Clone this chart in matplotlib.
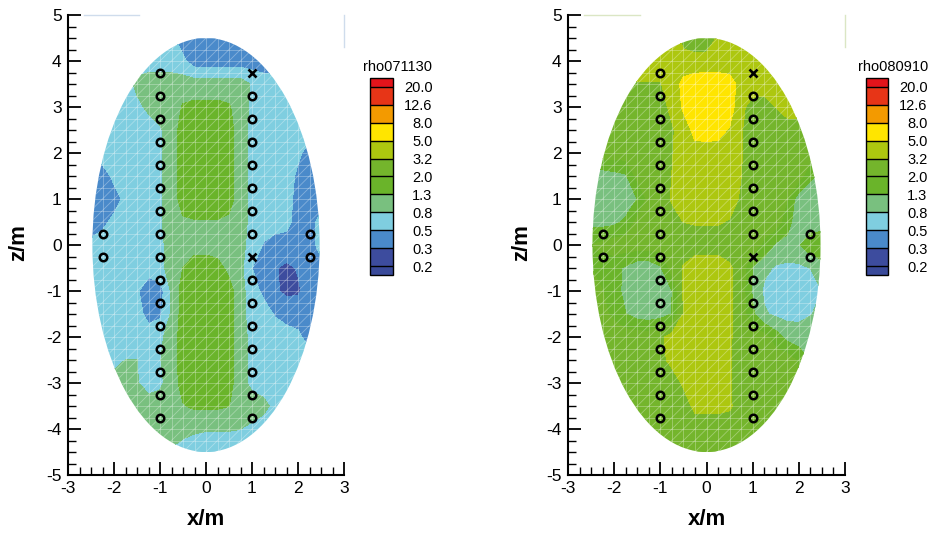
import numpy as np
import matplotlib
matplotlib.use("Agg")
import matplotlib.pyplot as plt
from matplotlib.patches import Ellipse
from matplotlib.collections import LineCollection
from matplotlib.ticker import MultipleLocator

plt.rcParams['font.family'] = ['Liberation Sans', 'DejaVu Sans']
plt.rcParams['axes.unicode_minus'] = False

# ---------------- data ----------------
x_grid = [-2.5, -2.25, -2.0, -1.75, -1.5, -1.25, -1.0, -0.75, -0.5, -0.25, 0.0,
          0.25, 0.5, 0.75, 1.0, 1.25, 1.5, 1.75, 2.0, 2.25, 2.5]
z_grid = [4.5, 4.0, 3.5, 3.0, 2.5, 2.0, 1.5, 1.0, 0.5, 0.0,
          -0.5, -1.0, -1.5, -2.0, -2.5, -3.0, -3.5, -4.0, -4.5]

levels = [0.2, 0.3, 0.5, 0.8, 1.3, 2.0, 3.2, 5.0, 8.0, 12.6, 20.0]
level_labels = ['0.2', '0.3', '0.5', '0.8', '1.3', '2.0', '3.2', '5.0', '8.0', '12.6', '20.0']
band_colors = ['#3A4A9A', '#3D4C9E', '#4A8ACA', '#7FCEE0', '#79C07F', '#6AB42A',
               '#74B52C', '#ADC70F', '#FFE500', '#F39A00', '#E73517', '#E3141B']
titles = ['rho071130', 'rho080910']

rho071130 = [
    [0.63, 0.63, 0.63, 0.63, 0.63, 0.63, 0.63, 0.55, 0.38, 0.38, 0.38, 0.38, 0.38, 0.38, 0.38, 0.38, 0.38, 0.38, 0.38, 0.38, 0.38],
    [0.63, 0.63, 0.63, 0.63, 0.63, 0.63, 0.63, 0.63, 0.55, 0.38, 0.38, 0.38, 0.38, 0.38, 0.38, 0.38, 0.38, 0.38, 0.38, 0.38, 0.38],
    [0.63, 0.63, 0.63, 0.63, 0.90, 1.00, 1.00, 1.00, 1.00, 1.00, 1.00, 1.00, 1.00, 1.00, 0.75, 0.63, 0.63, 0.63, 0.63, 0.63, 0.63],
    [0.63, 0.63, 0.63, 0.63, 0.70, 0.88, 1.00, 1.00, 1.35, 1.45, 1.45, 1.45, 1.35, 1.00, 0.72, 0.63, 0.63, 0.63, 0.63, 0.63, 0.63],
    [0.63, 0.63, 0.63, 0.63, 0.63, 0.63, 0.75, 1.00, 1.60, 1.70, 1.70, 1.70, 1.60, 0.95, 0.70, 0.63, 0.63, 0.63, 0.63, 0.63, 0.63],
    [0.63, 0.63, 0.63, 0.63, 0.63, 0.63, 0.75, 1.00, 1.60, 1.70, 1.70, 1.70, 1.60, 0.95, 0.70, 0.63, 0.63, 0.63, 0.55, 0.40, 0.40],
    [0.40, 0.40, 0.55, 0.63, 0.63, 0.63, 0.75, 1.00, 1.60, 1.70, 1.70, 1.70, 1.60, 0.95, 0.70, 0.63, 0.63, 0.63, 0.45, 0.40, 0.40],
    [0.38, 0.38, 0.42, 0.55, 0.63, 0.63, 0.75, 1.00, 1.60, 1.70, 1.70, 1.70, 1.60, 0.95, 0.70, 0.63, 0.63, 0.60, 0.42, 0.40, 0.40],
    [0.40, 0.45, 0.55, 0.63, 0.63, 0.63, 0.75, 1.00, 1.20, 1.25, 1.25, 1.25, 1.15, 0.95, 0.70, 0.63, 0.63, 0.58, 0.40, 0.40, 0.60],
    [0.55, 0.60, 0.63, 0.63, 0.63, 0.63, 0.72, 0.95, 1.05, 1.10, 1.10, 1.05, 1.00, 0.90, 0.68, 0.48, 0.40, 0.40, 0.40, 0.40, 0.60],
    [0.63, 0.63, 0.63, 0.63, 0.60, 0.58, 0.68, 1.00, 1.30, 1.60, 1.60, 1.50, 1.15, 0.90, 0.50, 0.38, 0.31, 0.27, 0.31, 0.38, 0.42],
    [0.63, 0.63, 0.63, 0.60, 0.52, 0.40, 0.40, 0.85, 1.60, 1.70, 1.70, 1.70, 1.55, 0.95, 0.60, 0.45, 0.32, 0.27, 0.28, 0.36, 0.40],
    [0.63, 0.63, 0.63, 0.63, 0.60, 0.42, 0.45, 0.85, 1.60, 1.70, 1.70, 1.70, 1.55, 0.95, 0.63, 0.60, 0.48, 0.40, 0.40, 0.40, 0.40],
    [0.63, 0.63, 0.63, 0.63, 0.63, 0.63, 0.72, 1.00, 1.60, 1.70, 1.70, 1.70, 1.55, 0.95, 0.70, 0.63, 0.63, 0.63, 0.55, 0.40, 0.40],
    [0.63, 0.63, 0.70, 0.80, 0.80, 0.70, 0.78, 1.00, 1.60, 1.70, 1.70, 1.70, 1.55, 0.95, 0.70, 0.63, 0.63, 0.63, 0.63, 0.63, 0.63],
    [0.85, 0.90, 0.95, 0.95, 0.82, 0.65, 0.72, 1.00, 1.55, 1.70, 1.70, 1.70, 1.55, 0.95, 0.70, 0.65, 0.63, 0.63, 0.63, 0.63, 0.63],
    [0.95, 0.95, 0.95, 0.95, 1.00, 1.00, 1.00, 1.05, 1.25, 1.40, 1.40, 1.40, 1.30, 1.10, 1.00, 0.90, 0.70, 0.63, 0.63, 0.63, 0.63],
    [1.00, 1.00, 1.00, 1.00, 1.00, 1.00, 1.00, 1.00, 0.95, 0.85, 0.82, 0.82, 0.82, 0.80, 0.72, 0.65, 0.63, 0.63, 0.63, 0.63, 0.63],
    [0.75, 0.75, 0.75, 0.75, 0.75, 0.75, 0.75, 0.75, 0.63, 0.63, 0.63, 0.63, 0.63, 0.63, 0.63, 0.63, 0.63, 0.63, 0.63, 0.63, 0.63],
]

rho080910 = [
    [4.0, 4.0, 4.0, 4.0, 4.0, 4.0, 4.0, 4.0, 2.6, 2.3, 2.3, 3.4, 4.0, 4.0, 4.0, 4.0, 4.0, 4.0, 4.0, 4.0, 4.0],
    [4.0, 4.0, 4.0, 4.0, 4.0, 4.0, 4.0, 4.0, 4.0, 3.8, 3.8, 3.8, 3.8, 4.0, 4.0, 4.0, 4.0, 4.0, 4.0, 4.0, 4.0],
    [3.1, 3.1, 3.1, 3.1, 3.1, 3.1, 3.1, 4.0, 5.5, 6.3, 6.5, 6.5, 6.0, 4.2, 4.0, 4.0, 4.0, 4.0, 4.0, 4.0, 4.0],
    [2.5, 2.5, 2.5, 2.5, 2.5, 2.5, 2.6, 3.6, 5.3, 6.5, 7.0, 6.8, 6.2, 3.5, 2.7, 2.6, 3.2, 4.0, 4.0, 4.0, 4.0],
    [2.5, 2.5, 2.5, 2.5, 2.5, 2.5, 2.5, 3.0, 4.0, 5.6, 5.8, 5.6, 4.8, 3.3, 2.5, 2.5, 2.5, 2.5, 2.5, 2.5, 2.5],
    [2.5, 2.5, 2.5, 2.5, 2.5, 2.5, 2.5, 3.1, 4.0, 4.3, 4.3, 4.3, 4.0, 3.3, 2.5, 2.5, 2.5, 2.5, 2.5, 2.5, 2.5],
    [1.0, 1.0, 1.1, 1.2, 2.2, 2.5, 2.5, 3.2, 4.0, 4.2, 4.2, 4.2, 4.0, 3.2, 2.5, 2.5, 2.5, 2.5, 2.4, 1.4, 1.2],
    [0.95, 0.95, 0.95, 1.0, 1.3, 2.2, 2.5, 3.3, 4.0, 4.2, 4.2, 4.2, 3.8, 3.0, 2.5, 2.5, 2.5, 2.0, 1.0, 0.95, 0.95],
    [1.1, 1.1, 1.15, 1.4, 2.2, 2.5, 2.5, 2.8, 3.2, 3.3, 3.3, 3.3, 3.1, 2.7, 2.5, 2.5, 2.5, 1.5, 1.0, 0.95, 0.95],
    [2.0, 2.2, 2.5, 2.5, 2.5, 2.5, 2.5, 2.6, 2.6, 2.6, 2.6, 2.6, 2.6, 2.6, 2.5, 1.8, 1.2, 1.15, 1.2, 1.8, 2.0],
    [2.0, 1.7, 1.5, 1.2, 0.95, 0.95, 1.2, 2.4, 3.3, 4.0, 4.0, 4.0, 3.4, 2.6, 1.25, 0.9, 0.75, 0.7, 0.72, 0.8, 1.0],
    [2.2, 2.0, 1.6, 1.1, 0.92, 0.9, 0.92, 1.25, 3.3, 4.0, 4.0, 4.0, 3.4, 2.5, 1.2, 0.72, 0.62, 0.6, 0.6, 0.65, 0.8],
    [2.4, 2.2, 1.8, 1.3, 1.05, 1.0, 1.05, 1.3, 3.2, 4.0, 4.0, 4.0, 3.4, 2.5, 1.4, 0.85, 0.72, 0.68, 0.7, 0.78, 0.9],
    [2.5, 2.5, 2.5, 2.5, 2.5, 2.5, 2.9, 3.8, 4.0, 4.0, 4.0, 4.0, 3.4, 2.5, 2.5, 2.3, 1.6, 1.1, 1.0, 1.0, 1.0],
    [2.5, 2.5, 2.5, 2.5, 2.5, 2.5, 2.8, 3.6, 4.0, 4.0, 4.0, 4.0, 3.3, 2.5, 2.5, 2.5, 2.5, 2.5, 1.8, 1.2, 1.2],
    [2.5, 2.5, 2.5, 2.5, 2.5, 2.5, 2.5, 2.5, 3.4, 4.0, 4.0, 4.0, 3.3, 2.5, 2.5, 2.5, 2.5, 2.5, 2.5, 2.5, 2.5],
    [2.5, 2.5, 2.5, 2.5, 2.5, 2.5, 2.5, 2.5, 2.5, 3.6, 3.6, 3.6, 3.4, 2.5, 2.5, 2.5, 2.5, 2.5, 2.5, 2.5, 2.5],
    [2.5, 2.5, 2.5, 2.5, 2.5, 2.5, 2.5, 2.5, 2.5, 2.5, 2.5, 2.5, 2.5, 2.5, 2.5, 2.5, 2.5, 2.5, 2.5, 2.5, 2.5],
    [2.5, 2.5, 2.5, 2.5, 2.5, 2.5, 2.5, 2.5, 2.5, 2.5, 2.5, 2.5, 2.5, 2.5, 2.5, 2.5, 2.5, 2.5, 2.5, 2.5, 2.5],
]

# electrode positions (same in both surveys)
electrode_x = [-1.0] * 16 + [1.0] * 16 + [-2.25, -2.25, 2.25, 2.25]
column_z = [3.75, 3.25, 2.75, 2.25, 1.75, 1.25, 0.75, 0.25,
            -0.25, -0.75, -1.25, -1.75, -2.25, -2.75, -3.25, -3.75]
electrode_z = column_z + column_z + [0.25, -0.25, 0.25, -0.25]
electrode_mark = ['o'] * 16 + ['x'] + ['o'] * 7 + ['x'] + ['o'] * 7 + ['o'] * 4

ellipse_a = 2.47
ellipse_b = 4.5

# ---------------- figure ----------------
W, H = 931, 533
fig = plt.figure(figsize=(W / 100, H / 100), dpi=100)


def fx(px):
    return px / W


def fy(py):
    return 1 - py / H


panels = [
    dict(data=rho071130, title=titles[0], ax_left=68, ax_right=344,
         cb_left=370, cb_right=393, title_x=398, artifact='#cfdcec',
         ylab_right=29),
    dict(data=rho080910, title=titles[1], ax_left=568, ax_right=845,
         cb_left=866, cb_right=888, title_x=893, artifact='#dbe6c4',
         ylab_right=532),
]

ax_top, ax_bot = 15, 475
cb_top, cb_bot = 78, 275

for p in panels:
    ax = fig.add_axes([fx(p['ax_left']), fy(ax_bot), fx(p['ax_right'] - p['ax_left']),
                       (ax_bot - ax_top) / H])
    ax.set_xlim(-3, 3)
    ax.set_ylim(-5, 5)

    X, Z = np.meshgrid(x_grid, z_grid)
    L = np.log10(np.array(p['data'], dtype=float))
    ell = Ellipse((0, 0), 2 * ellipse_a, 2 * ellipse_b, transform=ax.transData,
                  facecolor='none', edgecolor='none')
    ax.add_patch(ell)
    cs = ax.contourf(X, Z, L, levels=np.log10(levels), colors=band_colors, extend='both')
    cs.set_clip_path(ell)
    cs.set_edgecolor('face')
    cs.set_linewidth(0.3)

    # white mesh overlay
    segs = []
    for xv in np.arange(-2.5, 2.51, 0.25):
        segs.append([(xv, -4.6), (xv, 4.6)])
    for zv in np.arange(-4.5, 4.51, 0.25):
        segs.append([(-2.6, zv), (2.6, zv)])
    for c in np.arange(-7.5, 7.51, 0.25):
        segs.append([(-2.6, -2.6 + c), (2.6, 2.6 + c)])
    lc = LineCollection(segs, colors='white', linewidths=0.6, alpha=0.33)
    ax.add_collection(lc)
    lc.set_clip_path(ell)

    # electrodes
    ex = np.array(electrode_x)
    ez = np.array(electrode_z)
    em = np.array(electrode_mark)
    ax.plot(ex[em == 'o'], ez[em == 'o'], linestyle='none', marker='o', ms=5.4,
            mfc='none', mec='black', mew=1.8, zorder=5)
    ax.plot(ex[em == 'x'], ez[em == 'x'], linestyle='none', marker='x', ms=5.2,
            mec='black', mew=1.9, zorder=5)

    # faint frame remnants
    ax.plot([-2.65, -1.45], [5, 5], color=p['artifact'], lw=1.0, clip_on=False, zorder=1)
    ax.plot([3, 3], [4.3, 5], color=p['artifact'], lw=1.0, clip_on=False, zorder=1)

    # axes styling
    for s in ['top', 'right']:
        ax.spines[s].set_visible(False)
    for s in ['left', 'bottom']:
        ax.spines[s].set_linewidth(1.5)
    ax.set_xticks(range(-3, 4))
    ax.set_yticks(range(-5, 6))
    ax.xaxis.set_minor_locator(MultipleLocator(0.25))
    ax.yaxis.set_minor_locator(MultipleLocator(0.25))
    ax.tick_params(which='major', direction='in', length=9.5, width=1.3, labelsize=12.5,
                   pad=4.5, top=False, right=False)
    ax.tick_params(which='minor', direction='in', length=5.5, width=1.0, top=False, right=False)
    ax.set_xlabel('x/m', fontsize=16, fontweight='bold')
    ax.set_ylabel('z/m', fontsize=16, fontweight='bold')
    axw = p['ax_right'] - p['ax_left']
    ax.xaxis.set_label_coords(0.5, -(509 - ax_bot) / (ax_bot - ax_top))
    ax.yaxis.set_label_coords((p['ylab_right'] - p['ax_left']) / axw, 0.505)

    # legend (colorbar)
    cax = fig.add_axes([fx(p['cb_left']), fy(cb_bot), fx(p['cb_right'] - p['cb_left']),
                        (cb_bot - cb_top) / H])
    cb = fig.colorbar(cs, cax=cax, extendrect=True, extendfrac=0.05, drawedges=True,
                      ticks=np.log10(levels))
    cb.set_ticklabels(level_labels)
    cb.ax.tick_params(length=0, labelsize=10.5, pad=28.5)
    for lbl in cb.ax.get_yticklabels():
        lbl.set_horizontalalignment('right')
    cb.outline.set_linewidth(1.0)
    cb.outline.set_edgecolor('black')
    cb.dividers.set_color('black')
    cb.dividers.set_linewidth(1.0)
    fig.text(fx(p['title_x']), fy(67), p['title'], ha='center', va='center', fontsize=10.5)

fig.savefig('out.png', dpi=100)
